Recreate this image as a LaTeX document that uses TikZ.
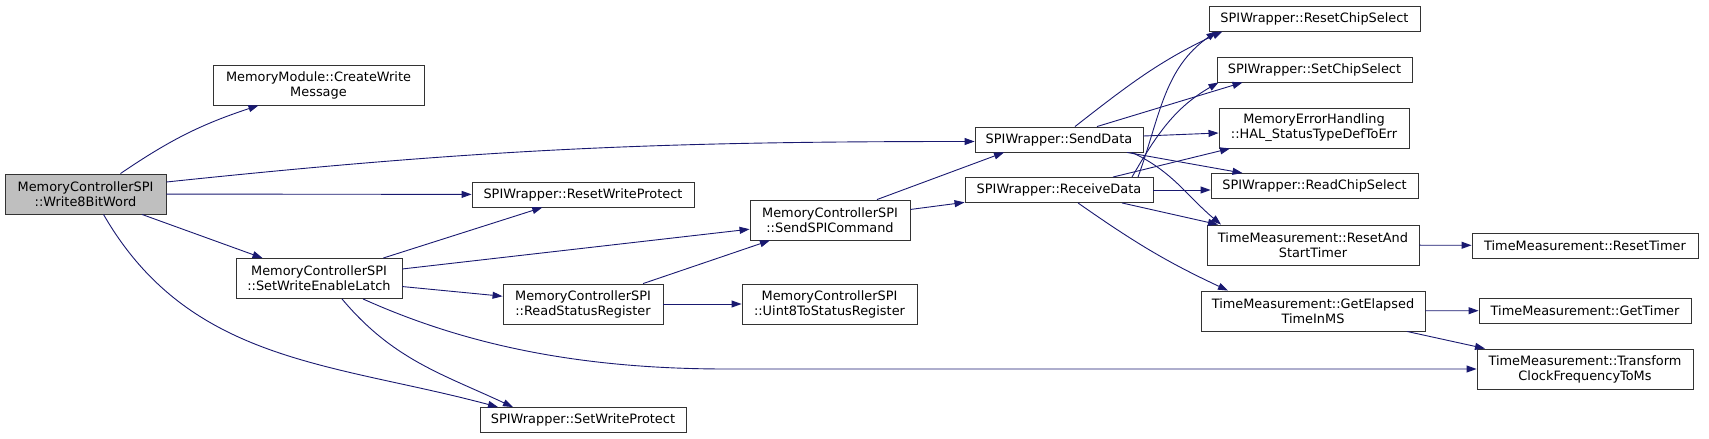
\documentclass[tikz,border=0pt]{standalone}
\usepackage{fontspec}
\usetikzlibrary{arrows.meta,calc}
\newfontfamily\dejavu{DejaVu Sans}
\newcommand{\nodefont}{\dejavu\fontsize{12.9}{15}\selectfont}
\definecolor{callblue}{RGB}{25,25,112}
\definecolor{rootgray}{RGB}{191,191,191}

\begin{document}
\begin{tikzpicture}[
    x=1pt, y=1pt,
    fn/.style={rectangle, draw=black!80, line width=0.9pt, fill=white, inner sep=0pt, align=center, font=\nodefont},
    one/.style={minimum height=25pt},
    two/.style={minimum height=40pt},
    call/.style={-{Triangle[length=10pt,width=7pt]}, draw=callblue, line width=0.9pt}
  ]
  \useasboundingbox (0,0) rectangle (1709,-439);

  % caller
  \node[fn, two, fill=rootgray, minimum width=161pt] (w8) at (85.5,-194) {MemoryControllerSPI\\::Write8BitWord};

  % first level
  \node[fn, two, minimum width=211pt] (cwm) at (318.5,-85) {MemoryModule::CreateWrite\\Message};
  \node[fn, two, minimum width=166pt] (swel) at (319,-278.5) {MemoryControllerSPI\\::SetWriteEnableLatch};
  \node[fn, one, minimum width=222pt] (rwp) at (583,-194.5) {SPIWrapper::ResetWriteProtect};
  \node[fn, two, minimum width=160pt] (rsr) at (583,-304) {MemoryControllerSPI\\::ReadStatusRegister};
  \node[fn, one, minimum width=206pt] (swp) at (583,-420) {SPIWrapper::SetWriteProtect};
  \node[fn, two, minimum width=160pt] (sspi) at (830,-220) {MemoryControllerSPI\\::SendSPICommand};
  \node[fn, two, minimum width=175pt] (u8) at (829.5,-304) {MemoryControllerSPI\\::Uint8ToStatusRegister};

  % SPI layer
  \node[fn, one, minimum width=168pt] (sd) at (1059,-139.5) {SPIWrapper::SendData};
  \node[fn, one, minimum width=188pt] (rd) at (1059,-190) {SPIWrapper::ReceiveData};
  \node[fn, one, minimum width=211pt] (rcs) at (1314.5,-18.5) {SPIWrapper::ResetChipSelect};
  \node[fn, one, minimum width=195pt] (scs) at (1314.5,-69.5) {SPIWrapper::SetChipSelect};
  \node[fn, two, minimum width=190pt] (hal) at (1314,-128) {MemoryErrorHandling\\::HAL\_StatusTypeDefToErr};
  \node[fn, one, minimum width=207pt] (readcs) at (1314.5,-186) {SPIWrapper::ReadChipSelect};
  \node[fn, two, minimum width=212pt] (rast) at (1313,-245) {TimeMeasurement::ResetAnd\\StartTimer};
  \node[fn, two, minimum width=224pt] (get) at (1313,-311) {TimeMeasurement::GetElapsed\\TimeInMS};

  % timer
  \node[fn, one, minimum width=226pt] (rt) at (1585,-245.5) {TimeMeasurement::ResetTimer};
  \node[fn, one, minimum width=212pt] (gt) at (1585,-310.5) {TimeMeasurement::GetTimer};
  \node[fn, two, minimum width=216pt] (tcf) at (1585,-369) {TimeMeasurement::Transform\\ClockFrequencyToMs};

  % calls from Write8BitWord
  \draw[call] ([xshift=35pt]w8.north) to[bend left=8] ([xshift=-60pt]cwm.south);
  \draw[call] ([yshift=12pt]w8.east) to[out=6, in=180] ([yshift=-2pt]sd.west);
  \draw[call] (w8) -- (rwp);
  \draw[call] (w8) -- (swel);
  \draw[call] ([xshift=18pt]w8.south) to[out=-60, in=165] ([xshift=-85pt]swp.north);

  % calls from SetWriteEnableLatch
  \draw[call] (swel) -- (rwp);
  \draw[call] (swel) -- (sspi);
  \draw[call] (swel) -- (rsr);
  \draw[call] ([xshift=23pt]swel.south) to[out=-50, in=155] ([xshift=-70pt]swp.north);
  \draw[call] ([xshift=44pt]swel.south) .. controls +(100,-45) and +(-150,0) .. ([xshift=-750pt]tcf.west) -- (tcf.west);

  % ReadStatusRegister, SendSPICommand
  \draw[call] (rsr) -- (sspi);
  \draw[call] (rsr) -- (u8);
  \draw[call] ([xshift=47pt]sspi.north) -- ([xshift=-55pt]sd.south);
  \draw[call] (sspi) -- (rd);

  % SendData
  \draw[call] ([xshift=16pt]sd.north) to[out=38, in=205] ([xshift=-92pt]rcs.south);
  \draw[call] ([xshift=38pt]sd.north) -- ([xshift=-72pt]scs.south);
  \draw[call] ([yshift=3.5pt]sd.east) -- ([yshift=-5pt]hal.west);
  \draw[call] ([xshift=68pt]sd.south) -- ([xshift=-72pt]readcs.north);
  \draw[call] ([xshift=73pt]sd.south) to[out=-25, in=140] ([xshift=-92pt]rast.north);

  % ReceiveData
  \draw[call] ([xshift=79pt]rd.north) to[out=70, in=215] ([xshift=-98pt]rcs.south);
  \draw[call] ([xshift=73pt]rd.north) to[out=60, in=210] ([xshift=-96pt]scs.south);
  \draw[call] ([xshift=54pt]rd.north) -- ([xshift=-84pt]hal.south);
  \draw[call] (rd.east) -- (rd.east -| readcs.west);
  \draw[call] ([xshift=63pt]rd.south) -- ([xshift=-95pt]rast.north);
  \draw[call] ([xshift=19pt]rd.south) to[out=-35, in=155] ([xshift=-85pt]get.north);

  % timer calls
  \draw[call] (rast) -- (rt);
  \draw[call] (get) -- (gt);
  \draw[call] ([xshift=94pt]get.south) -- ([xshift=-100pt]tcf.north);
\end{tikzpicture}
\end{document}
